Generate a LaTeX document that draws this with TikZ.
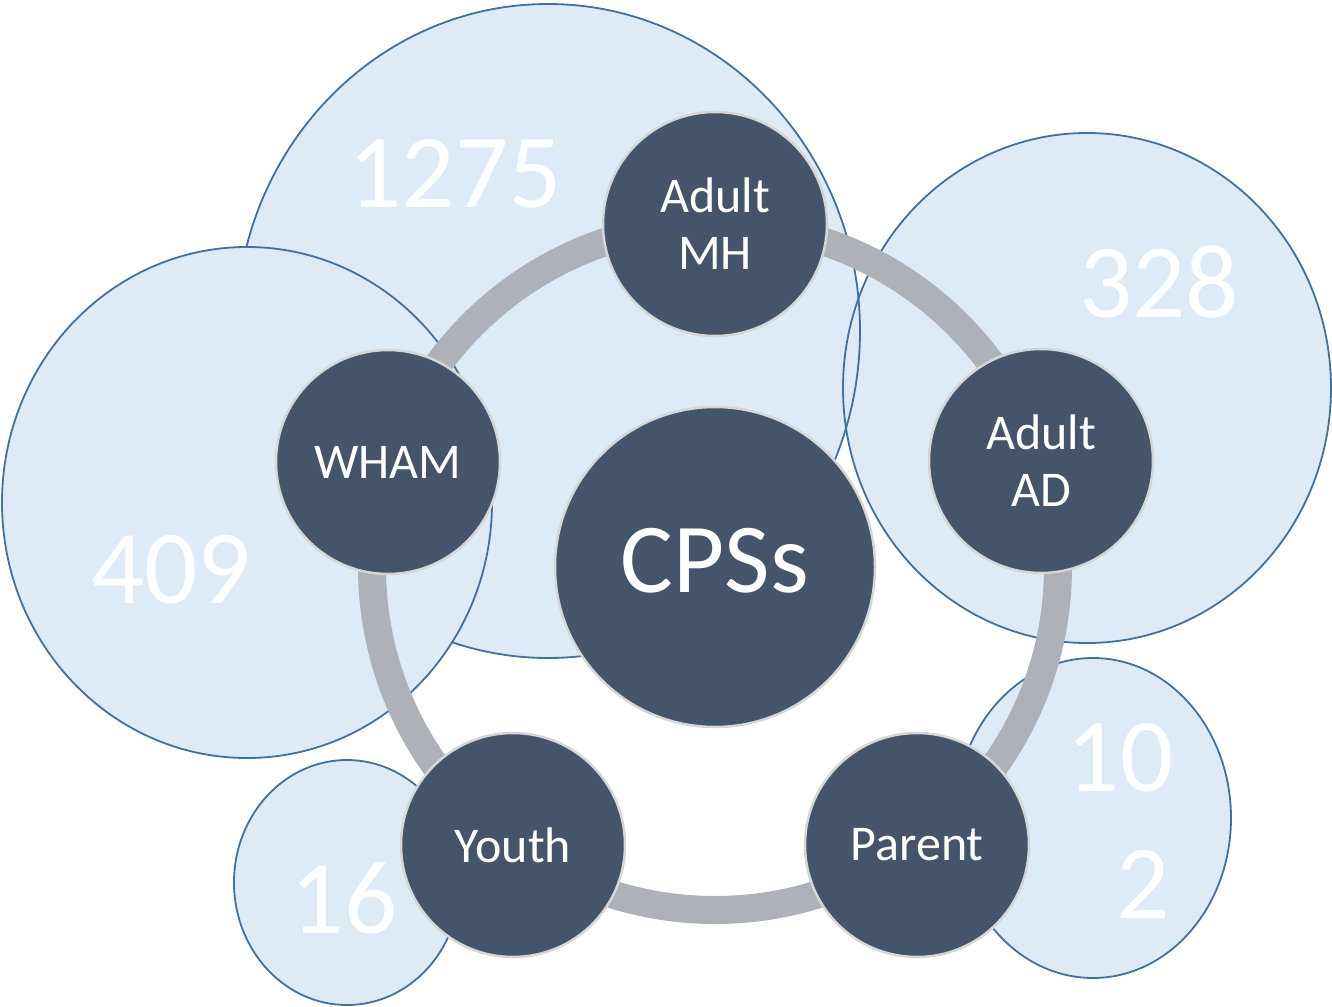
\documentclass[tikz,border=0pt]{standalone}
\usepackage{fontspec}
\setmainfont{Carlito}
\definecolor{paleblue}{HTML}{DEEAF6}
\definecolor{rimblue}{HTML}{41719C}
\definecolor{slate}{HTML}{44546A}
\definecolor{ringgray}{HTML}{AEB1B8}
\definecolor{hubedge}{HTML}{D6D6D6}
\begin{document}
\begin{tikzpicture}[x=1pt, y=-1pt, line join=round, line cap=round,
  bubble/.style={fill=paleblue},
  rim/.style={draw=rimblue, line width=1.8pt},
  ring/.style={draw=ringgray, line width=28pt},
  hub/.style={circle, fill=slate, draw=hubedge, line width=2.5pt, minimum size=224pt,
    inner sep=0pt, text=white, align=center, font=\fontsize{50}{57}\selectfont},
  num/.style={text=white, anchor=base, inner sep=0pt, font=\fontsize{105}{105}\selectfont}]
\useasboundingbox (0,0) rectangle (1332,1006);
\coordinate (o) at (715,567);
% light bubbles
\fill[bubble] (548,331) ellipse [x radius=312, y radius=327];
\fill[bubble] (1087,388) ellipse [x radius=244, y radius=255];
\draw[rim] (548,331) ellipse [x radius=312, y radius=327];
\draw[rim] (1087,388) ellipse [x radius=244, y radius=255];
\filldraw[bubble, rim] (247,502.5) ellipse [x radius=245, y radius=255.5];
\filldraw[bubble, rim] (347,882.5) ellipse [x radius=113, y radius=122.5];
\filldraw[bubble, rim] (1093,818) ellipse [x radius=138, y radius=160];
% counts
\foreach \x/\y/\n in {455/207/1275, 1159/317/328, 171/603/409, 1120/791/10, 1143/918/2, 344/933/16}
  \node[num] (n\n) at (\x,\y) {\n};
% ring
\draw[ring] (o) circle [radius=343];
% hubs
\node[hub] (mh) at (715,224) {Adult\\MH};
\node[hub] (ad) at (1041,461) {Adult\\AD};
\node[hub] (parent) at (917,845) {Parent};
\node[hub] (youth) at (513,845) {Youth};
\node[hub] (wham) at (388,462) {WHAM};
\node[hub, minimum size=320pt, text depth=14pt, font=\fontsize{99}{99}\selectfont] (cps) at (o) {CPSs};
\end{tikzpicture}
\end{document}
